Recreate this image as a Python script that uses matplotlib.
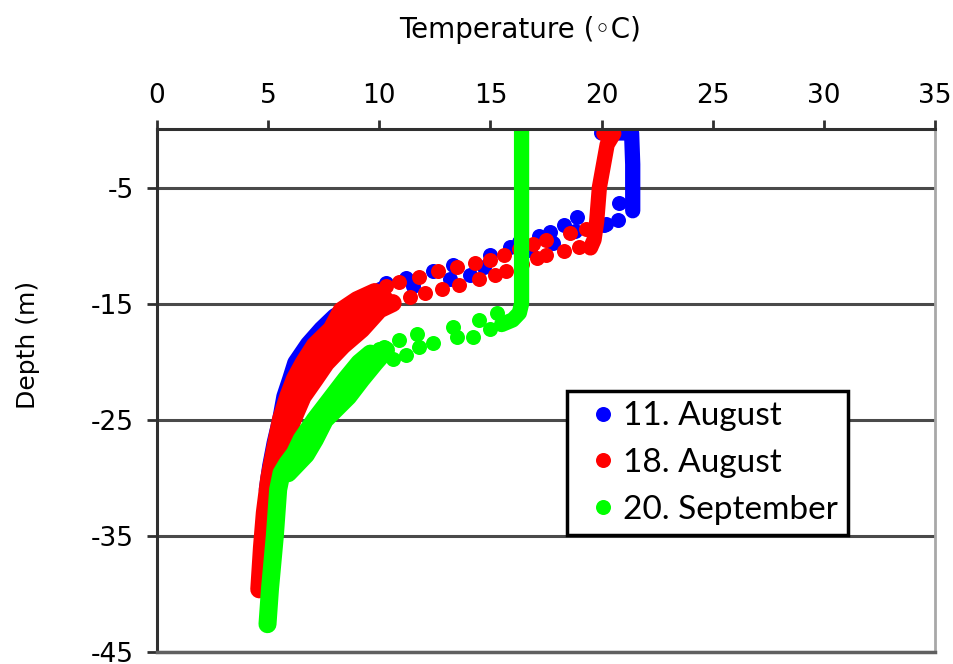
import numpy as np
import matplotlib
matplotlib.use('Agg')
import matplotlib.pyplot as plt

plt.rcParams['font.family'] = ['DejaVu Sans']
plt.rcParams['axes.unicode_minus'] = False

#%% Data (temperature in C, depth in m)

# 11. August - continuous traces
aug11_top_T = [20.0, 21.35, 21.4, 21.4]
aug11_top_z = [-0.3, -0.3, -3.0, -7.0]
aug11_deep_T = [10.1, 9.1, 8.0, 7.4, 6.8, 6.23, 6.0, 5.74, 5.55, 5.3, 5.1, 4.95]
aug11_deep_z = [-13.8, -15.0, -16.1, -17.2, -18.5, -20.1, -21.5, -23.0, -25.0, -27.0, -29.0, -31.0]
# 11. August - single dots in the thermocline
aug11_pts_T = [20.8, 20.75, 20.1, 20.2, 19.6, 18.9, 18.3, 17.7, 17.2, 16.8, 15.9, 15.0,
               14.7, 14.1, 13.3, 13.2, 12.4, 11.5, 10.3, 11.2, 16.3, 17.8, 18.8]
aug11_pts_z = [-6.3, -7.8, -8.25, -8.1, -8.6, -7.5, -8.2, -8.8, -9.2, -10.4, -10.1, -10.8,
               -11.8, -12.5, -11.65, -12.9, -12.2, -13.5, -13.2, -12.8, -9.7, -9.8, -8.7]

# 18. August - continuous traces
aug18_top_T = [20.1, 20.55, 20.25, 19.9, 19.78, 19.66, 19.5]
aug18_top_z = [-0.35, -0.35, -1.3, -5.0, -7.9, -9.5, -10.2]
aug18_deep1_T = [9.8, 9.0, 8.3, 7.85, 7.1, 6.6, 6.2, 5.9, 5.57, 5.27, 5.05, 4.85, 4.72, 4.6]
aug18_deep1_z = [-14.0, -14.7, -15.6, -17.2, -18.6, -20.1, -21.5, -23.0, -25.0, -27.9, -30.0, -33.0, -36.0, -39.6]
aug18_deep2_T = [10.6, 10.0, 9.2, 8.35, 7.6, 7.1, 6.55, 6.1, 5.6, 5.3, 5.1]
aug18_deep2_z = [-14.95, -15.5, -17.2, -18.6, -20.1, -21.5, -23.0, -25.0, -27.9, -30.0, -32.5]
aug18_deep3_T = [10.2, 9.5, 9.0, 8.5, 7.7, 7.1, 6.65, 6.2, 5.85, 5.45]
aug18_deep3_z = [-14.5, -15.2, -16.0, -17.2, -18.6, -20.1, -21.5, -23.0, -25.0, -27.9]
# 18. August - single dots in the thermocline
aug18_pts_T = [18.6, 17.5, 16.9, 16.3, 15.6, 15.0, 14.3, 13.5, 12.65, 11.8, 10.9, 10.3,
               19.3, 19.0, 18.3, 17.5, 17.1, 16.4, 15.7, 15.2, 14.5, 13.6, 12.8, 12.05, 11.4]
aug18_pts_z = [-8.9, -9.5, -9.9, -10.3, -10.8, -11.2, -11.5, -11.8, -12.2, -12.7, -13.1, -13.5,
               -8.6, -10.1, -10.5, -10.8, -11.1, -11.6, -12.2, -12.5, -12.9, -13.4, -13.7, -14.1, -14.4]

# 20. September - continuous traces
sep20_top_T = [16.4, 16.4, 16.3, 16.0, 15.5]
sep20_top_z = [0.0, -15.0, -15.8, -16.4, -16.8]
sep20_deep1_T = [9.6, 9.1, 8.5, 7.9, 7.1, 6.5, 6.2, 5.85, 5.6, 5.45, 5.3, 5.08, 4.97]
sep20_deep1_z = [-19.3, -20.1, -21.5, -23.0, -25.0, -26.7, -27.9, -28.8, -29.6, -31.0, -35.0, -39.6, -42.6]
sep20_deep2_T = [10.3, 9.8, 9.2, 8.6, 7.55, 7.1, 6.7, 5.9]
sep20_deep2_z = [-19.0, -20.1, -21.5, -23.0, -25.0, -26.7, -28.0, -29.6]
# 20. September - single dots
sep20_pts_T = [15.3, 15.0, 14.5, 14.2, 13.3, 13.5, 12.4, 11.7, 11.8, 10.9, 10.6, 11.2, 10.2, 10.0]
sep20_pts_z = [-15.8, -17.2, -16.4, -17.9, -17.0, -17.9, -18.4, -17.6, -18.7, -18.1, -19.8, -19.4, -18.7, -18.9]

labels = ['11. August', '18. August', '20. September']
colors = ['#0000ff', '#ff0000', '#00ff00']

#%% Figure
fig = plt.figure(figsize=(9.54, 6.64), dpi=100)
ax = fig.add_axes([0.1646, 0.018, 0.8155, 0.787])

ms = 10.8

def trace(T, z, c, lw=11):
    ax.plot(T, z, '-', color=c, lw=lw, solid_capstyle='round', solid_joinstyle='round')

def dots(T, z, c, lab):
    ax.plot(T, z, 'o', color=c, ms=ms, mec='none', label=lab)

trace(aug11_top_T, aug11_top_z, colors[0])
trace(aug11_deep_T, aug11_deep_z, colors[0], lw=12)
dots(aug11_pts_T, aug11_pts_z, colors[0], labels[0])

trace(aug18_top_T, aug18_top_z, colors[1])
trace(aug18_deep1_T, aug18_deep1_z, colors[1], lw=13)
trace(aug18_deep2_T, aug18_deep2_z, colors[1], lw=13)
trace(aug18_deep3_T, aug18_deep3_z, colors[1], lw=13)
dots(aug18_pts_T, aug18_pts_z, colors[1], labels[1])

trace(sep20_top_T, sep20_top_z, colors[2])
trace(sep20_deep1_T, sep20_deep1_z, colors[2], lw=13)
trace(sep20_deep2_T, sep20_deep2_z, colors[2], lw=13)
dots(sep20_pts_T, sep20_pts_z, colors[2], labels[2])

ax.set_xlim(0, 35)
ax.set_ylim(-45, 0)
ax.set_xticks(np.arange(0, 36, 5))
ax.set_yticks([-5, -15, -25, -35, -45])
ax.xaxis.tick_top()
ax.tick_params(axis='x', length=6.5, width=2, pad=8, labelsize=19, color='#303030')
ax.tick_params(axis='y', length=7.5, width=2, pad=9.4, labelsize=19, color='#303030')
ax.grid(axis='y', color='#4a4a4a', lw=2.2)
ax.set_axisbelow(True)

for s in ['top', 'left']:
    ax.spines[s].set_color('#303030')
    ax.spines[s].set_linewidth(2.2)
ax.spines['bottom'].set_color('#606060')
ax.spines['bottom'].set_linewidth(2.5)
ax.spines['right'].set_color('#a8a8a8')
ax.spines['right'].set_linewidth(2)

fig.text(520 / 954, 1 - 30 / 664, 'Temperature (\u25e6C)', fontsize=20,
         ha='center', va='center')
fig.text(28 / 954, 1 - 345 / 664, 'Depth (m)', fontsize=18, rotation=90,
         ha='center', va='center', family=['DejaVu Sans Condensed', 'DejaVu Sans'])

leg = ax.legend(loc='upper left', bbox_to_anchor=(0.527, 0.4995), fancybox=False,
                edgecolor='black', framealpha=1, borderaxespad=0, handlelength=1.54,
                handletextpad=-0.17, labelspacing=0.5, borderpad=0.31, markerscale=1.0,
                prop={'family': 'Lato', 'size': 24})
leg.get_frame().set_linewidth(2.5)

fig.savefig('out.png', dpi=100, facecolor='w')
